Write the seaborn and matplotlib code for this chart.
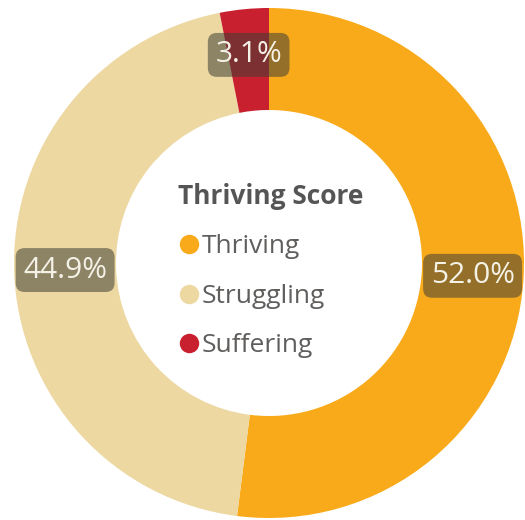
import numpy as np
import matplotlib.pyplot as plt
import seaborn as sns
from matplotlib.lines import Line2D

# data
categories = ['Thriving', 'Struggling', 'Suffering']
shares = [52.0, 44.9, 3.1]
colors = sns.color_palette(['#F9AA1B', '#EDD8A2', '#C8202F'])
legend_title = 'Thriving Score'

sns.set_theme(style='white')
plt.rcParams['font.family'] = ['Open Sans', 'DejaVu Sans']

fig = plt.figure(figsize=(5.25, 5.2), dpi=100)
ax = fig.add_axes([0, 0, 1, 1])

wedges, _ = ax.pie(shares, colors=colors, startangle=90, counterclock=False,
                   radius=1.0, wedgeprops=dict(width=0.40, linewidth=0))

# data labels in dark translucent boxes on the ring
total = sum(shares)
ang = 90.0
for val in shares:
    sweep = 360.0 * val / total
    mid = np.deg2rad(ang - sweep / 2)
    r = 0.80 if val > 10 else 0.82
    ax.text(r * np.cos(mid), r * np.sin(mid), f'{val:.1f}%',
            ha='center', va='center', fontsize=21.5, color='#F4F1E6',
            bbox=dict(boxstyle='round,pad=0.25,rounding_size=0.3',
                      fc='#3F3F35', ec='none', alpha=0.55))
    ang -= sweep

handles = [Line2D([], [], marker='o', linestyle='', markersize=14,
                  markerfacecolor=c, markeredgecolor='none') for c in colors]
leg = ax.legend(handles, categories, title=legend_title, loc='upper left',
                bbox_to_anchor=(0.318, 0.668), frameon=False, fontsize=19,
                title_fontproperties=dict(size=19, weight='bold'),
                handletextpad=0.0, labelspacing=0.92, handlelength=0.9,
                borderaxespad=0, alignment='left', labelcolor='#605E5C')
leg.get_title().set_color('#555555')

ax.set_xlim(-269 / 255, 256 / 255)
ax.set_ylim(-257 / 255, 263 / 255)
ax.set_aspect('equal')
ax.axis('off')

fig.savefig('out.png', dpi=100)
